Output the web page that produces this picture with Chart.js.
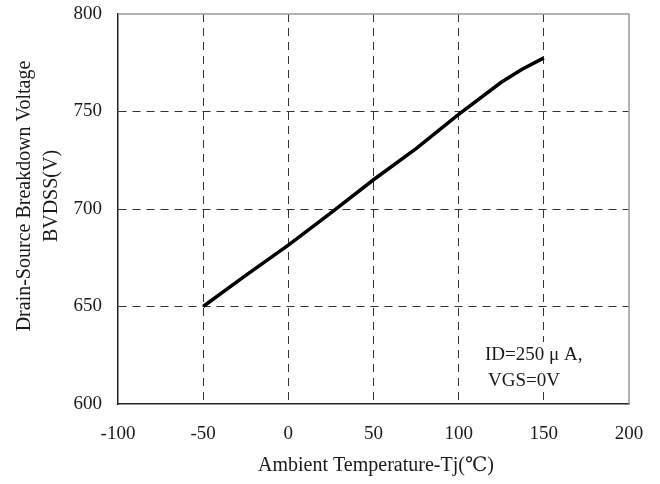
<!DOCTYPE html>
<html>
<head>
<meta charset="utf-8">
<script src="https://cdn.jsdelivr.net/npm/chart.js@4.4.1/dist/chart.umd.min.js"></script>
<style>
html,body{margin:0;padding:0;background:#fff;}
#wrap{width:660px;height:484px;position:relative;}
</style>
</head>
<body>
<div id="wrap"><canvas id="c" width="660" height="484"></canvas></div>
<script>
const temps = [-50, -25, 0, 25, 50, 75, 100, 125, 137, 150];
const bvdss = [650, 666, 681.5, 698, 715, 731, 748.5, 765, 771.5, 777.5];
const xTicks = [-100, -50, 0, 50, 100, 150, 200];
const yTicks = [600, 650, 700, 750, 800];
const xTitle = 'Ambient Temperature-Tj(\u2103)';
const yTitle = ['Drain-Source Breakdown Voltage', 'BVDSS(V)'];
const note = ['ID=250 \u03bc A,', 'VGS=0V'];

const FONT = '"Liberation Serif", "DejaVu Serif", serif';
const TXT = '#1a1a1a';

const deco = {
  id: 'deco',
  beforeDatasetsDraw(chart) {
    const {ctx} = chart;
    ctx.save();
    ctx.fillStyle = '#fff';
    ctx.fillRect(480, 342, 112, 48);
    ctx.restore();
  },
  afterDraw(chart) {
    const {ctx, chartArea: a} = chart;
    ctx.save();
    ctx.strokeStyle = '#9a9a9a';
    ctx.lineWidth = 1.5;
    ctx.beginPath();
    ctx.moveTo(a.left, a.top); ctx.lineTo(a.right, a.top); ctx.lineTo(a.right, a.bottom);
    ctx.stroke();
    ctx.fillStyle = TXT;
    ctx.font = '20px ' + FONT;
    ctx.textAlign = 'center';
    ctx.textBaseline = 'middle';
    ctx.fillText(xTitle, 376, 466);
    ctx.save();
    ctx.translate(25, 196);
    ctx.rotate(-Math.PI / 2);
    ctx.fillText(yTitle[0], 0, 0);
    ctx.restore();
    ctx.save();
    ctx.translate(52, 196);
    ctx.rotate(-Math.PI / 2);
    ctx.fillText(yTitle[1], 0, 0);
    ctx.restore();
    ctx.font = '19px ' + FONT;
    ctx.textAlign = 'left';
    ctx.fillText(note[0], 485, 355);
    ctx.fillText(note[1], 488, 381);
    ctx.restore();
  }
};

new Chart(document.getElementById('c'), {
  type: 'line',
  data: {
    datasets: [{
      data: temps.map((t, i) => ({x: t, y: bvdss[i]})),
      borderColor: '#000',
      borderWidth: 3.5,
      pointRadius: 0,
      tension: 0,
      fill: false
    }]
  },
  options: {
    responsive: false,
    animation: false,
    devicePixelRatio: 1,
    layout: {padding: {left: 0, top: 14, right: 31, bottom: 0}},
    plugins: {legend: {display: false}, tooltip: {enabled: false}},
    scales: {
      x: {
        type: 'linear',
        min: -100, max: 200,
        afterBuildTicks(s) { s.ticks = xTicks.map(v => ({value: v})); },
        afterFit(s) { s.height = 80; s.paddingLeft = 0; s.paddingRight = 0; },
        grid: {
          drawTicks: false,
          color: ctx => (ctx.tick && (ctx.tick.value === -100 || ctx.tick.value === 200)) ? 'rgba(0,0,0,0)' : '#333',
          lineWidth: 1
        },
        border: {display: true, color: '#222', width: 1.5, dash: [8, 6]},
        ticks: {color: TXT, font: {family: FONT, size: 19}, padding: 19, maxRotation: 0, autoSkip: false}
      },
      y: {
        min: 600, max: 800,
        afterBuildTicks(s) { s.ticks = yTicks.map(v => ({value: v})); },
        afterFit(s) { s.width = 118; s.paddingTop = 0; s.paddingBottom = 0; },
        grid: {
          drawTicks: false,
          color: ctx => (ctx.tick && (ctx.tick.value === 600 || ctx.tick.value === 800)) ? 'rgba(0,0,0,0)' : '#333',
          lineWidth: 1
        },
        border: {display: true, color: '#222', width: 1.5, dash: [8, 6]},
        ticks: {color: TXT, font: {family: FONT, size: 19}, padding: 16, autoSkip: false}
      }
    }
  },
  plugins: [deco]
});
</script>
</body>
</html>
